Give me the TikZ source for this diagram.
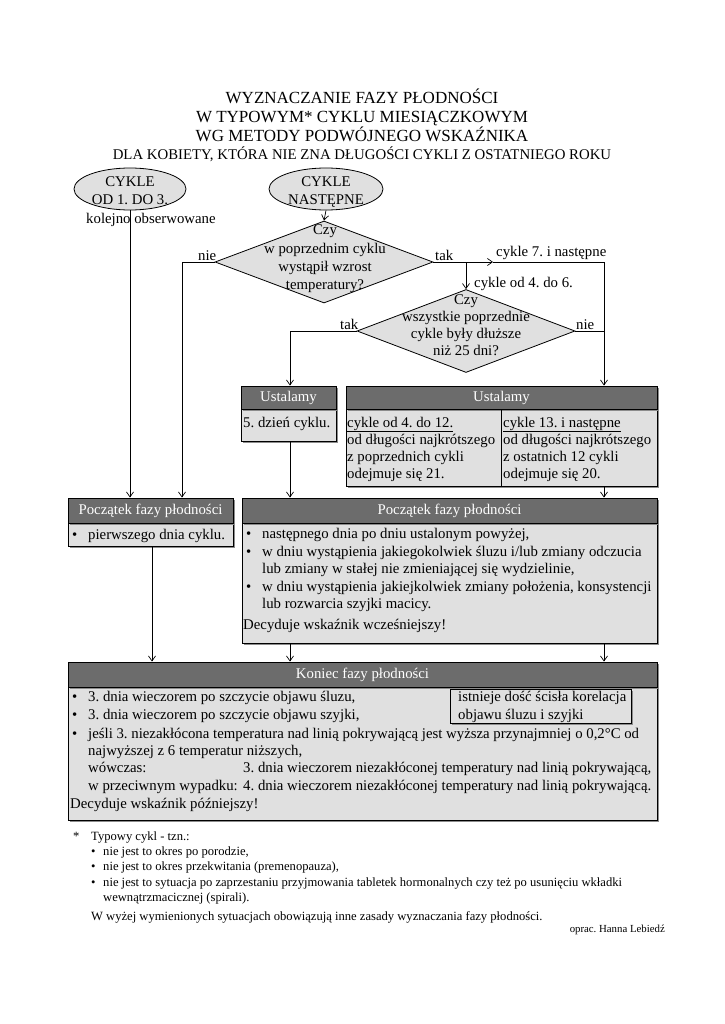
\documentclass[tikz,border=0pt]{standalone}
\usepackage{fontspec}
\setmainfont{Liberation Serif}
\usetikzlibrary{shapes.geometric,arrows.meta,shadows}
\definecolor{hdrgray}{RGB}{108,108,108}
\definecolor{bodygray}{RGB}{224,224,224}
\frenchspacing
\tikzset{
  base/.style={font=\fontsize{14.8}{17}\selectfont},
  lt/.style={base, inner sep=0pt, anchor=base west},
  ct/.style={base, inner sep=0pt, anchor=base},
  ttl/.style={font=\fontsize{17}{19}\selectfont, inner sep=0pt, anchor=base},
  fn/.style={font=\fontsize{12.6}{14}\selectfont, inner sep=0pt, anchor=base west},
  shd/.style={drop shadow={shadow xshift=1.5pt, shadow yshift=-1.5pt, fill=black!45, opacity=1}},
  hdr/.style={base, draw=black, line width=0.9pt, fill=hdrgray, text=white, inner sep=0pt, shd},
  bdy/.style={draw=black, line width=0.9pt, fill=bodygray, inner sep=0pt, shd},
  oval/.style={ellipse, draw=black, line width=0.8pt, fill=bodygray, inner sep=0pt},
  dia/.style={diamond, draw=black, line width=0.8pt, fill=bodygray, inner sep=0pt},
  conn/.style={line width=0.7pt},
  arr/.style={conn, -{Straight Barb[length=5pt,width=7pt]}},
}
\begin{document}
\begin{tikzpicture}[x=1pt,y=-1pt]
\useasboundingbox[fill=white] (0,0) rectangle (724,1024);

% title
\node[ttl] (t1) at (362,104) {WYZNACZANIE FAZY PŁODNOŚCI};
\node[ttl] (t2) at (362,123) {W TYPOWYM* CYKLU MIESIĄCZKOWYM};
\node[ttl] (t3) at (362,142) {WG METODY PODWÓJNEGO WSKAŹNIKA};
\node[base, inner sep=0pt, anchor=base] (t4) at (362,160) {DLA KOBIETY, KTÓRA NIE ZNA DŁUGOŚCI CYKLI Z OSTATNIEGO ROKU};

% ellipses
\node[oval, minimum width=112pt, minimum height=42pt] (e1) at (130,189) {};
\node[ct] (e1a) at (130,187) {CYKLE};
\node[ct] (e1b) at (130,205) {OD 1. DO 3.};
\node[oval, minimum width=114pt, minimum height=42pt] (e2) at (326,189) {};
\node[ct] (e2a) at (326,187) {CYKLE};
\node[ct] (e2b) at (326,205) {NASTĘPNE};

% diamonds
\node[dia, minimum width=218pt, minimum height=82pt] (d1) at (324,262) {};
\node[ct] (d1a) at (325,235) {Czy};
\node[ct] (d1b) at (325,253) {w poprzednim cyklu};
\node[ct] (d1c) at (325,271) {wystąpił wzrost};
\node[ct] (d1d) at (325,289) {temperatury?};

\node[dia, minimum width=218pt, minimum height=83pt] (d2) at (466,331) {};
\node[ct] (d2a) at (466,304) {Czy};
\node[ct] (d2b) at (466,321) {wszystkie poprzednie};
\node[ct] (d2c) at (466,338) {cykle były dłuższe};
\node[ct] (d2d) at (466,355) {niż 25 dni?};

% Ustalamy boxes
\node[bdy, minimum width=95pt, minimum height=32pt] (u1b) at (288.5,425) {};
\node[hdr, minimum width=95pt, minimum height=23pt] (u1h) at (288.5,397.5) {Ustalamy};
\node[lt] (u1t) at (243,427) {5. dzień cyklu.};

\node[bdy, minimum width=311pt, minimum height=77pt] (u2b) at (501.5,447.5) {};
\node[hdr, minimum width=311pt, minimum height=23pt] (u2h) at (501.5,397.5) {Ustalamy};
\draw[line width=0.9pt] (501,409) -- (501,486);
\node[lt] (u2l1) at (347,427) {\underline{cykle od 4. do 12.}};
\node[lt] (u2l2) at (347,444) {od długości najkrótszego};
\node[lt] (u2l3) at (347,461) {z poprzednich cykli};
\node[lt] (u2l4) at (347,478) {odejmuje się 21.};
\node[lt] (u2r1) at (503,427) {\underline{cykle 13. i następne}};
\node[lt] (u2r2) at (503,444) {od długości najkrótszego};
\node[lt] (u2r3) at (503,461) {z ostatnich 12 cykli};
\node[lt] (u2r4) at (503,478) {odejmuje się 20.};

% Poczatek boxes
\node[bdy, minimum width=165pt, minimum height=23pt] (p1b) at (150.5,534.5) {};
\node[hdr, minimum width=165pt, minimum height=25pt] (p1h) at (150.5,510.5) {Początek fazy płodności};
\node[lt] (p1t0) at (72,539) {•};
\node[lt] (p1t) at (88,539) {pierwszego dnia cyklu.};

\node[bdy, minimum width=415pt, minimum height=120pt] (p2b) at (449.5,583) {};
\node[hdr, minimum width=415pt, minimum height=25pt] (p2h) at (449.5,510.5) {Początek fazy płodności};
\node[lt] (p2b1) at (246,538) {•};
\node[lt] (p2l1) at (262,538) {następnego dnia po dniu ustalonym powyżej,};
\node[lt] (p2b2) at (246,556) {•};
\node[lt] (p2l2) at (262,556) {w dniu wystąpienia jakiegokolwiek śluzu i/lub zmiany odczucia};
\node[lt] (p2l3) at (262,573) {lub zmiany w stałej nie zmieniającej się wydzielinie,};
\node[lt] (p2b3) at (246,591) {•};
\node[lt] (p2l4) at (262,591) {w dniu wystąpienia jakiejkolwiek zmiany położenia, konsystencji};
\node[lt] (p2l5) at (262,608) {lub rozwarcia szyjki macicy.};
\node[lt] (p2l6) at (243,629) {Decyduje wskaźnik wcześniejszy!};

% Koniec box
\node[bdy, minimum width=589pt, minimum height=133pt] (kb) at (362.5,753.5) {};
\node[hdr, minimum width=589pt, minimum height=25pt] (kh) at (362.5,674.5) {Koniec fazy płodności};
\node[lt] (kb1) at (72,701) {•};
\node[lt] (kl1) at (88,701) {3. dnia wieczorem po szczycie objawu śluzu,};
\node[lt] (kb2) at (72,719) {•};
\node[lt] (kl2) at (88,719) {3. dnia wieczorem po szczycie objawu szyjki,};
\node[lt] (kb3) at (72,738) {•};
\node[lt] (kl3) at (88,738) {jeśli 3. niezakłócona temperatura nad linią pokrywającą jest wyższa przynajmniej o 0,2°C od};
\node[lt] (kl4) at (88,755) {najwyższej z 6 temperatur niższych,};
\node[lt] (kl5) at (88,772) {wówczas:};
\node[lt] (kl5b) at (243,772) {3. dnia wieczorem niezakłóconej temperatury nad linią pokrywającą,};
\node[lt] (kl6) at (88,790) {w przeciwnym wypadku:};
\node[lt] (kl6b) at (243,790) {4. dnia wieczorem niezakłóconej temperatury nad linią pokrywającą.};
\node[lt] (kl7) at (70,808) {Decyduje wskaźnik późniejszy!};

\node[draw=black, line width=0.9pt, inner sep=0pt, minimum width=181pt, minimum height=34pt, shd, fill=bodygray] (kor) at (540.5,706) {};
\node[lt] (kor1) at (458,701) {istnieje dość ścisła korelacja};
\node[lt] (kor2) at (458,719) {objawu śluzu i szyjki};

% labels
\node[lt] (lkol) at (86,223) {kolejno obserwowane};
\node[lt] (lnie1) at (198,260) {nie};
\node[lt] (ltak1) at (435,260) {tak};
\node[lt] (lc7) at (496,256) {cykle 7. i następne};
\node[lt] (lc46) at (474,287) {cykle od 4. do 6.};
\node[lt] (ltak2) at (340,329) {tak};
\node[lt] (lnie2) at (576,329) {nie};

% connectors
\coordinate (xa) at (182,0);
\coordinate (xb) at (290,0);
\coordinate (xc) at (604,0);
\coordinate (xd) at (466,0);
\coordinate (xe) at (152,0);
\coordinate (mid) at (493,262);
\draw[arr] (e1.south) -- (e1.south |- p1h.north);
\draw[arr] (e2.south) -- (d1.north);
\draw[arr] (d1.west) -| (xa |- p1h.north);
\draw[arr] (d1.east) -- (mid);
\draw[conn] (mid) -| (xc |- d2.east);
\draw[arr] (xc |- d2.east) -- (xc |- u2h.north);
\draw[arr] (xd |- d1.east) -- (d2.north);
\draw[arr] (d2.west) -| (xb |- u1h.north);
\draw[conn] (d2.east) -- (xc |- d2.east);
\draw[arr] (xb |- u1b.south) -- (xb |- p2h.north);
\draw[arr] (xc |- u2b.south) -- (xc |- p2h.north);
\draw[arr] (xe |- p1b.south) -- (xe |- kh.north);
\draw[arr] (xb |- p2b.south) -- (xb |- kh.north);
\draw[arr] (xc |- p2b.south) -- (xc |- kh.north);

% footnote
\node[fn] (f0) at (73,840) {*};
\node[fn] (f1) at (91,840) {Typowy cykl - tzn.:};
\node[fn] (fb1) at (91,855) {•};
\node[fn] (f2) at (103,855) {nie jest to okres po porodzie,};
\node[fn] (fb2) at (91,870) {•};
\node[fn] (f3) at (103,870) {nie jest to okres przekwitania (premenopauza),};
\node[fn] (fb3) at (91,886) {•};
\node[fn] (f4) at (103,886) {nie jest to sytuacja po zaprzestaniu przyjmowania tabletek hormonalnych czy też po usunięciu wkładki};
\node[fn] (f5) at (103,901) {wewnątrzmacicznej (spirali).};
\node[fn] (f6) at (91,920) {W wyżej wymienionych sytuacjach obowiązują inne zasady wyznaczania fazy płodności.};
\node[font=\fontsize{10.8}{12}\selectfont, inner sep=0pt, anchor=base east] (f7) at (665,932) {oprac. Hanna Lebiedź};
\end{tikzpicture}
\end{document}
